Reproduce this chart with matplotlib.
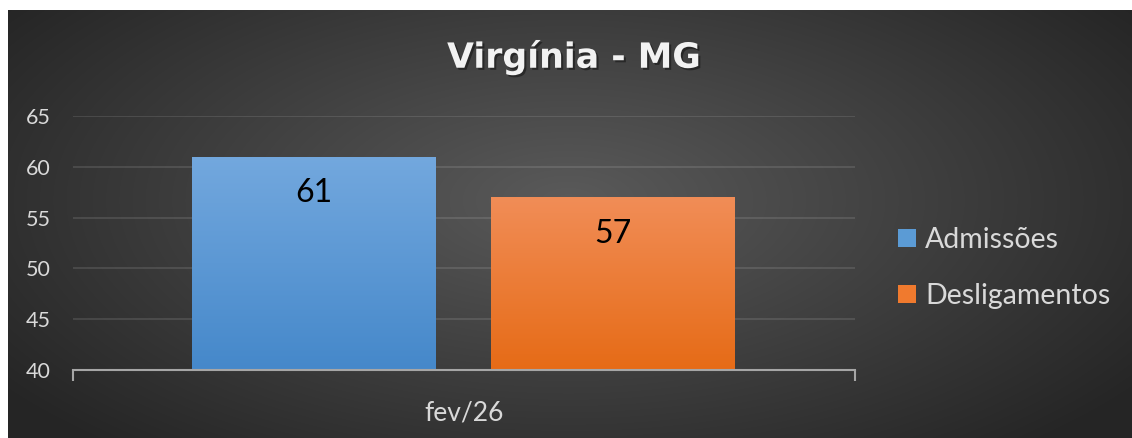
import matplotlib.pyplot as plt
import matplotlib.patheffects as pe
import numpy as np

categories = ['fev/26']
series = ['Admissões', 'Desligamentos']
values = [61, 57]
yticks = [40, 45, 50, 55, 60, 65]

plt.rcParams['font.family'] = ['Lato', 'DejaVu Sans']

W, H = 1132, 438
fig = plt.figure(figsize=(W / 100, H / 100), dpi=100)
fig.patch.set_facecolor('white')

# dark radial background (white strip on top/left like the source)
bg = fig.add_axes([8 / W, 0, 1 - 8 / W, 1 - 10 / H])
bg.axis('off')
ny, nx = 428, 1124
yy, xx = np.mgrid[0:ny, 0:nx]
d = np.sqrt(((xx - 560) / 700.0) ** 2 + ((yy - 190) / 330.0) ** 2)
d = np.clip(d, 0, 1)
c_in = np.array([0x5a, 0x5a, 0x5a]) / 255
c_out = np.array([0x25, 0x25, 0x25]) / 255
img = c_in + (c_out - c_in) * d[..., None]
bg.imshow(img, extent=[0, 1, 0, 1], aspect='auto', interpolation='bilinear')
bg.set_xlim(0, 1)
bg.set_ylim(0, 1)

ax = fig.add_axes([73 / W, 1 - 370 / H, (855 - 73) / W, (370 - 116) / H])
ax.patch.set_alpha(0)

offsets = [-0.1925, 0.1905]
width = 0.311
tops = ['#73a8de', '#f18d57']
bots = ['#4588ca', '#e66b16']
bars = []
for i, (name, v) in enumerate(zip(series, values)):
    b = ax.bar(offsets[i], v - 40, width, bottom=40, color=bots[i], label=name, zorder=2)
    rect = b[0]
    grad = np.linspace(0, 1, 256)[:, None, None]
    t = np.array([int(tops[i][k:k + 2], 16) for k in (1, 3, 5)]) / 255
    bt = np.array([int(bots[i][k:k + 2], 16) for k in (1, 3, 5)]) / 255
    gimg = t + (bt - t) * grad
    im = ax.imshow(gimg, extent=[offsets[i] - width / 2, offsets[i] + width / 2, 40, v],
                   aspect='auto', zorder=2.1, interpolation='bilinear')
    im.set_clip_path(rect)
    ax.text(offsets[i], v - 3.6, str(v), ha='center', va='center', fontsize=23,
            color='black', zorder=3)
    bars.append(rect)

ax.set_xlim(-0.5, 0.5)
ax.set_ylim(40, 65)
ax.set_yticks(yticks)
ax.tick_params(axis='y', length=0, pad=16, labelsize=15.5, labelcolor='#d9d9d9')
ax.set_xticks([-0.5, 0.5])
ax.set_xticklabels(['', ''])
ax.tick_params(axis='x', length=8, width=1.5, color='#a6a6a6', direction='out')
ax.set_xticks([0], minor=True)
ax.set_xticklabels(categories, minor=True)
ax.tick_params(axis='x', which='minor', length=0, pad=22, labelsize=19, labelcolor='#d9d9d9')
ax.grid(axis='y', color='#ffffff', alpha=0.12, linewidth=1.3, zorder=0)
for s in ['top', 'right', 'left']:
    ax.spines[s].set_visible(False)
ax.spines['bottom'].set_color('#a6a6a6')
ax.spines['bottom'].set_linewidth(1.5)
ax.spines['bottom'].set_zorder(4)

fig.text(574 / W, 1 - 57 / H, 'Virgínia - MG', ha='center', va='center', fontsize=25,
         fontweight='bold', family=['DejaVu Sans'], color='#f2f2f2',
         path_effects=[pe.withSimplePatchShadow(offset=(1.5, -1.5), shadow_rgbFace='black', alpha=0.4)])

leg = fig.legend(handles=bars, labels=series, loc='center left',
                 bbox_to_anchor=(884 / W, 1 - 268 / H), frameon=False, fontsize=20.5,
                 handlelength=0.64, handleheight=0.64, handletextpad=0.3,
                 labelspacing=1.05, borderpad=0, labelcolor='#d9d9d9')
leg.legend_handles[0].set_facecolor('#5b9bd5')
leg.legend_handles[1].set_facecolor('#f07a2e')

fig.savefig('out.png', dpi=100)
